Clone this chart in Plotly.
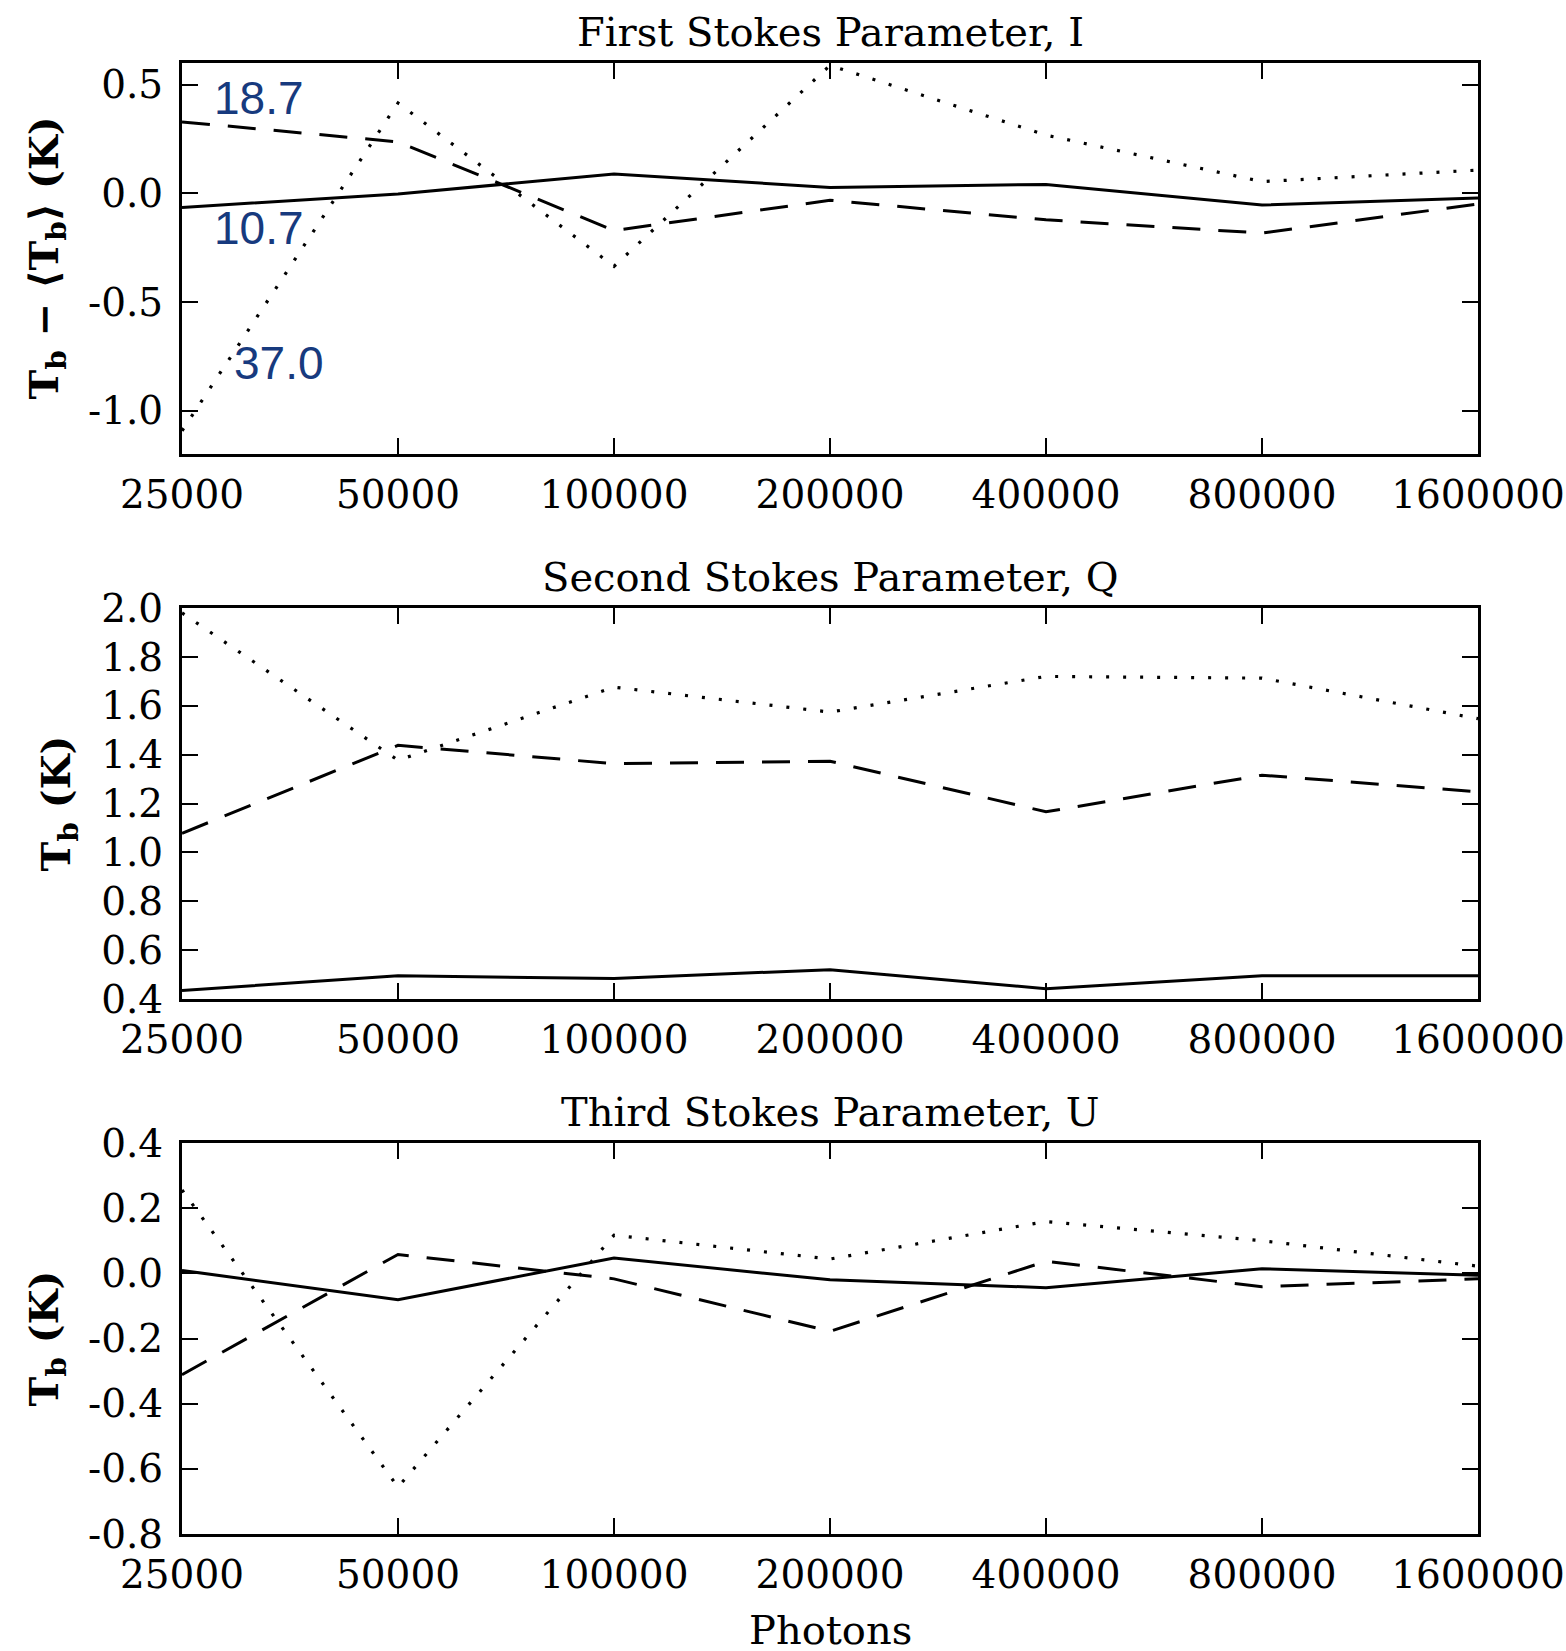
import numpy as np
import plotly.graph_objects as go

# ---------------- data ----------------
photons = [25000, 50000, 100000, 200000, 400000, 800000, 1600000]
x_tick_text = ["25000", "50000", "100000", "200000", "400000", "800000", "1600000"]

# Panel 1: First Stokes parameter I  (Tb - <Tb>)
I_solid = [-0.065, -0.003, 0.089, 0.027, 0.041, -0.054, -0.022]
I_dashed = [0.329, 0.237, -0.171, -0.032, -0.122, -0.183, -0.049]
I_dotted = [-1.093, 0.416, -0.336, 0.589, 0.268, 0.054, 0.107]

# Panel 2: Second Stokes parameter Q
Q_solid = [0.435, 0.495, 0.484, 0.520, 0.442, 0.495, 0.495]
Q_dashed = [1.078, 1.438, 1.363, 1.373, 1.166, 1.316, 1.248]
Q_dotted = [1.980, 1.377, 1.676, 1.574, 1.720, 1.713, 1.547]

# Panel 3: Third Stokes parameter U
U_solid = [0.009, -0.081, 0.047, -0.020, -0.044, 0.014, -0.006]
U_dashed = [-0.311, 0.058, -0.017, -0.178, 0.037, -0.041, -0.017]
U_dotted = [0.256, -0.656, 0.117, 0.044, 0.159, 0.100, 0.022]

y1_ticks = [0.5, 0.0, -0.5, -1.0]
y1_text = ["0.5", "0.0", "-0.5", "-1.0"]
y2_ticks = [2.0, 1.8, 1.6, 1.4, 1.2, 1.0, 0.8, 0.6, 0.4]
y2_text = ["2.0", "1.8", "1.6", "1.4", "1.2", "1.0", "0.8", "0.6", "0.4"]
y3_ticks = [0.4, 0.2, 0.0, -0.2, -0.4, -0.6, -0.8]
y3_text = ["0.4", "0.2", "0.0", "-0.2", "-0.4", "-0.6", "-0.8"]

titles = ["First Stokes Parameter, I", "Second Stokes Parameter, Q", "Third Stokes Parameter, U"]
labels_I = ["18.7", "10.7", "37.0"]

# ---------------- layout helpers ----------------
W, H = 1566, 1651
ML, MR, MT, MB = 182, W - 1478, 63, H - 1534
PH = H - MT - MB
PW = W - ML - MR

def ydom(top_px, bot_px):
    return [1 - (bot_px - MT) / PH, 1 - (top_px - MT) / PH]

domains = [ydom(63, 454), ydom(608, 999), ydom(1143, 1534)]

FONT = "DejaVu Serif, serif"
FS_TICK = 39
FS_TITLE = 40

fig = go.Figure()

panels = [
    (I_solid, I_dashed, I_dotted),
    (Q_solid, Q_dashed, Q_dotted),
    (U_solid, U_dashed, U_dotted),
]
styles = [
    dict(color="black", width=3, dash="solid"),
    dict(color="black", width=3, dash="28px,18px"),
    dict(color="black", width=3.2, dash="3px,14px"),
]

for i, series in enumerate(panels):
    xa = "x" if i == 0 else f"x{i+1}"
    ya = "y" if i == 0 else f"y{i+1}"
    for s, st in zip(series, styles):
        fig.add_trace(go.Scatter(x=photons, y=s, mode="lines", line=st,
                                 xaxis=xa, yaxis=ya, showlegend=False,
                                 hoverinfo="skip"))

xr = [np.log10(photons[0]), np.log10(photons[-1])]
common_axis = dict(showline=True, linecolor="black", linewidth=3, mirror="ticks",
                   ticks="inside", ticklen=16, tickwidth=2, tickcolor="black",
                   showgrid=False, zeroline=False, automargin=False,
                   tickfont=dict(family=FONT, size=FS_TICK, color="black"))

yranges = [[-1.2, 0.6], [0.4, 2.0], [-0.8, 0.4]]
yticks = [(y1_ticks, y1_text), (y2_ticks, y2_text), (y3_ticks, y3_text)]

layout = dict(width=W, height=H, margin=dict(l=ML, r=MR, t=MT, b=MB, autoexpand=False),
              plot_bgcolor="white", paper_bgcolor="white", showlegend=False)

for i in range(3):
    xk = "xaxis" if i == 0 else f"xaxis{i+1}"
    yk = "yaxis" if i == 0 else f"yaxis{i+1}"
    ya = "y" if i == 0 else f"y{i+1}"
    xa = "x" if i == 0 else f"x{i+1}"
    layout[xk] = dict(common_axis, type="log", range=xr, domain=[0, 1], anchor=ya,
                      tickmode="array", tickvals=photons, ticktext=x_tick_text,
                      ticklabelstandoff=4, ticklabeloverflow="allow")
    layout[yk] = dict(common_axis, range=yranges[i], domain=domains[i], anchor=xa,
                      tickmode="array", tickvals=yticks[i][0], ticktext=yticks[i][1],
                      ticklabelstandoff=8)

fig.update_layout(**layout)

annotations = []
# subplot titles
for i, t in enumerate(titles):
    annotations.append(dict(text=t, xref="paper", yref="paper", x=0.5, y=domains[i][1],
                            yshift=31, xanchor="center", yanchor="middle", showarrow=False,
                            font=dict(family=FONT, size=FS_TITLE, color="black")))

# y-axis labels
ylabels = ["<b>T<sub>b</sub> \u2212 \u27e8T<sub>b</sub>\u27e9 (K)</b>",
           "<b>T<sub>b</sub> (K)</b>", "<b>T<sub>b</sub> (K)</b>"]
ylab_x = [46, 58, 46]
for i, lab in enumerate(ylabels):
    annotations.append(dict(text=lab, xref="paper", yref="paper",
                            x=(ylab_x[i] - ML) / PW, y=sum(domains[i]) / 2,
                            xanchor="center", yanchor="middle", textangle=-90,
                            showarrow=False, font=dict(family=FONT, size=40, color="black")))

# x-axis label
annotations.append(dict(text="Photons", xref="paper", yref="paper", x=0.5,
                        y=-(1630 - 1534) / PH, xanchor="center", yanchor="middle",
                        showarrow=False, font=dict(family=FONT, size=FS_TITLE, color="black")))

# blue labels in panel 1
lab_pos = [(0.023, 0.437), (0.023, -0.161), (0.0386, -0.783)]
for t, (xd, yv) in zip(labels_I, lab_pos):
    annotations.append(dict(text=t, xref="x domain", yref="y", x=xd, y=yv,
                            xanchor="left", yanchor="middle", showarrow=False,
                            font=dict(family="Liberation Sans, Arial, sans-serif", size=46,
                                      color="#173a7e")))

fig.update_layout(annotations=annotations)
fig.write_html("out.html", config={"displayModeBar": False},
               post_script="document.body.style.margin='0px';document.body.style.overflow='hidden';")
